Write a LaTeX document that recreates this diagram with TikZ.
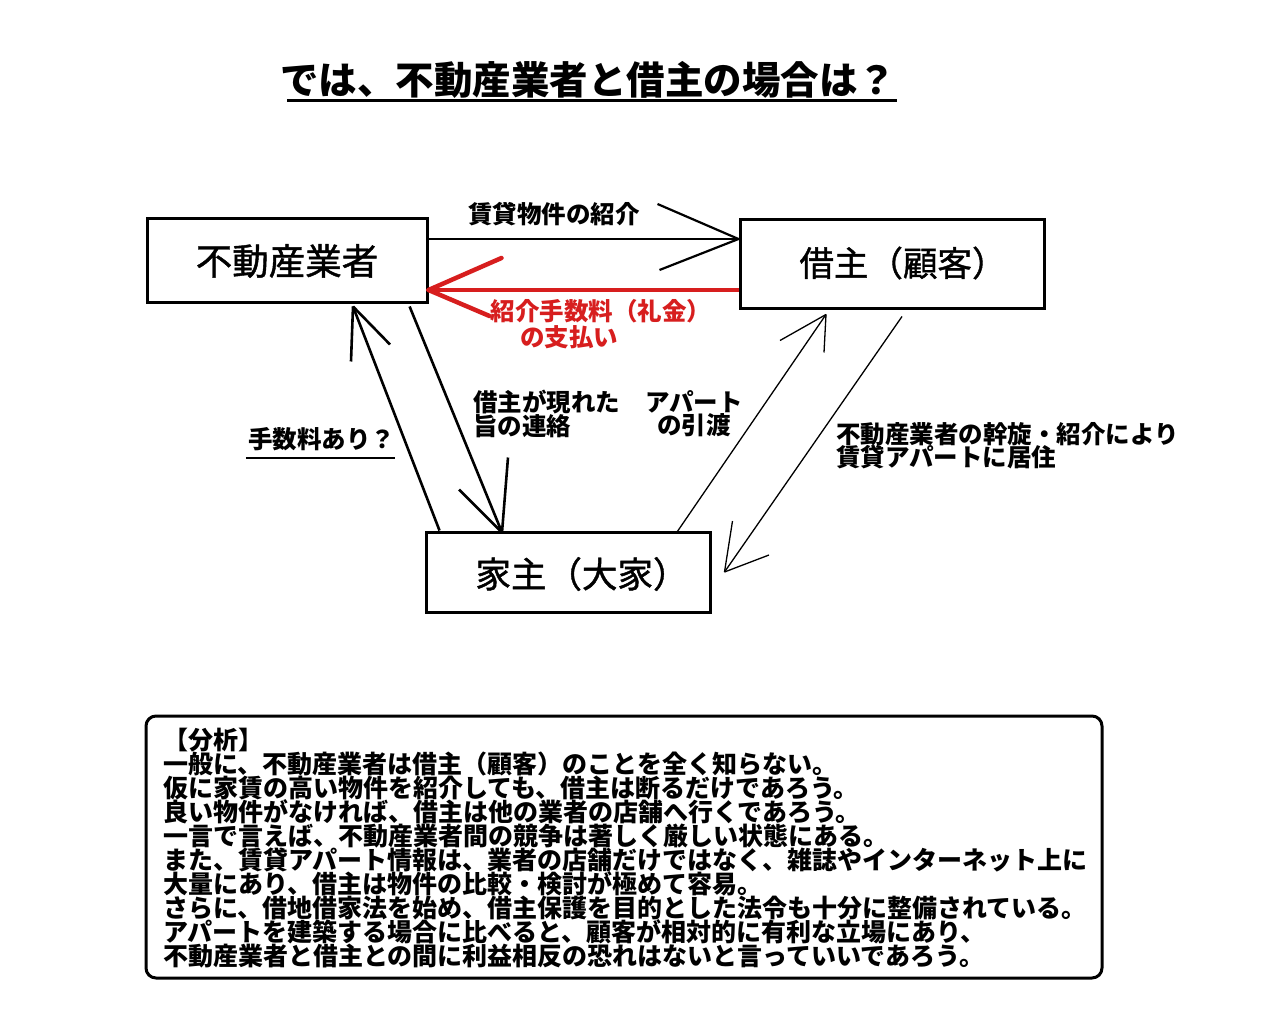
\documentclass[tikz,border=0pt]{standalone}
\usepackage{fontspec}
\setmainfont{Noto Sans CJK JP}
\newfontfamily\jpmed{Noto Sans CJK JP}[FakeBold=1.2]
\definecolor{refred}{RGB}{215,30,30}
\newcommand\tightlines{\lineskiplimit=-50pt\lineskip=0pt\relax}
\begin{document}
\begin{tikzpicture}[x=1pt,y=-1pt,
  box/.style={draw, line width=3pt, inner sep=0pt},
  boxtext/.style={inner sep=0pt, font=\jpmed\fontsize{36.5}{40}\selectfont},
  lbl/.style={inner sep=0pt, font=\fontsize{24.5}{23.5}\selectfont\bfseries\tightlines},
  conn/.style={line width=2.2pt},
  thick conn/.style={line width=2.6pt},
  thin conn/.style={line width=1.3pt},
  redconn/.style={line width=3.5pt, draw=refred},
  redbarb/.style={line width=4.5pt, draw=refred},
]
\useasboundingbox (0,0) rectangle (1280,1024);
\fill[white] (0,0) rectangle (1280,1024);

% title
\node[inner sep=0pt, font=\fontsize{38.5}{42}\selectfont\bfseries] (title) at (588,80) {では、不動産業者と借主の場合は？};
\coordinate (ul1) at (287,101);
\coordinate (ul2) at (897,101);
\draw[line width=3pt] (ul1) -- (ul2);

% boxes
\node[box, minimum width=280pt, minimum height=84pt] (agent) at (287,261) {};
\node[boxtext] (agenttext) at (287,261) {不動産業者};
\node[box, minimum width=304pt, minimum height=89pt] (tenant) at (892,264.5) {};
\node[boxtext, font=\jpmed\fontsize{34.5}{40}\selectfont] (tenanttext) at (903,263) {借主（顧客）};
\node[box, minimum width=284pt, minimum height=80pt] (landlord) at (568,572) {};
\node[boxtext, font=\jpmed\fontsize{35.5}{40}\selectfont] (landlordtext) at (582,574) {家主（大家）};

% agent -> tenant
\draw[conn] ([yshift=22pt]agent.east) -- ([yshift=25.5pt]tenant.west) coordinate (t1);
\draw[conn] (t1) -- ++(-81,-35) coordinate (t1a);
\draw[conn] (t1) -- ++(-79,31) coordinate (t1b);
\node[lbl] (l1) at (554,214) {賃貸物件の紹介};

% tenant -> agent (red)
\draw[redconn] ([yshift=-25.5pt]tenant.west) -- ([yshift=-29pt]agent.east) coordinate (t2);
\draw[redbarb, line cap=round] (t2) -- ++(73,-32) coordinate (t2a);
\draw[redbarb, line cap=round] (t2) -- ++(61,26) coordinate (t2b);
\node[lbl, text=refred] (l2a) at (601,311) {紹介手数料（礼金）};
\node[lbl, text=refred] (l2b) at (569,337) {の支払い};

% landlord -> agent
\draw[thick conn] ([xshift=15pt]landlord.north west) -- ([xshift=66pt,yshift=-2pt]agent.south) coordinate (t3);
\draw[thick conn] (t3) -- ++(-2,55) coordinate (t3a);
\draw[thick conn] (t3) -- ++(37,38) coordinate (t3b);
\node[lbl] (l3) at (321.5,439) {手数料あり？};
\draw[line width=2pt] ([yshift=-7pt]l3.south west) ++(-2,0) coordinate (u3a) -- ([yshift=-7pt]l3.south east) coordinate (u3b);

% agent -> landlord
\draw[thick conn] ([xshift=122.6pt,yshift=-2pt]agent.south) -- ([xshift=-66pt,yshift=-2pt]landlord.north) coordinate (t4);
\draw[thick conn] (t4) -- ++(-43,-43) coordinate (t4a);
\draw[thick conn] (t4) -- ++(6,-75) coordinate (t4b);
\node[lbl, align=left, anchor=north west] (l4) at (473,390) {借主が現れた\\旨の連絡};

% landlord -> tenant
\draw[thin conn] ([xshift=108pt,yshift=-3pt]landlord.north) -- ([xshift=-66pt,yshift=-4pt]tenant.south) coordinate (t5);
\draw[thin conn] (t5) -- ++(-46,26) coordinate (t5a);
\draw[thin conn] (t5) -- ++(-2,38) coordinate (t5b);
\node[lbl, align=center, anchor=north] (l5) at (694,390) {アパート\\の引渡};

% tenant -> landlord
\draw[thin conn] ([xshift=10pt,yshift=-6pt]tenant.south) -- ([xshift=13pt]landlord.east) coordinate (t6);
\draw[thin conn] (t6) -- ++(8,-51) coordinate (t6a);
\draw[thin conn] (t6) -- ++(44.5,-17) coordinate (t6b);
\node[lbl, align=left, anchor=north west] (l6) at (836,422) {不動産業者の幹旋・紹介により\\賃貸アパートに居住};

% analysis box
\node[draw, line width=3pt, rounded corners=10pt, minimum width=956pt, minimum height=262pt, inner sep=0pt] (abox) at (624,847) {};
\node[inner sep=0pt, anchor=north west, align=left, font=\fontsize{25}{24}\selectfont\bfseries\tightlines] (atext) at (163,728) {%
【分析】\\
一般に、不動産業者は借主（顧客）のことを全く知らない。\\
仮に家賃の高い物件を紹介しても、借主は断るだけであろう。\\
良い物件がなければ、借主は他の業者の店舗へ行くであろう。\\
一言で言えば、不動産業者間の競争は著しく厳しい状態にある。\\
また、賃貸アパート情報は、業者の店舗だけではなく、雑誌やインターネット上に\\
大量にあり、借主は物件の比較・検討が極めて容易。\\
さらに、借地借家法を始め、借主保護を目的とした法令も十分に整備されている。\\
アパートを建築する場合に比べると、顧客が相対的に有利な立場にあり、\\
不動産業者と借主との間に利益相反の恐れはないと言っていいであろう。};
\end{tikzpicture}
\end{document}
